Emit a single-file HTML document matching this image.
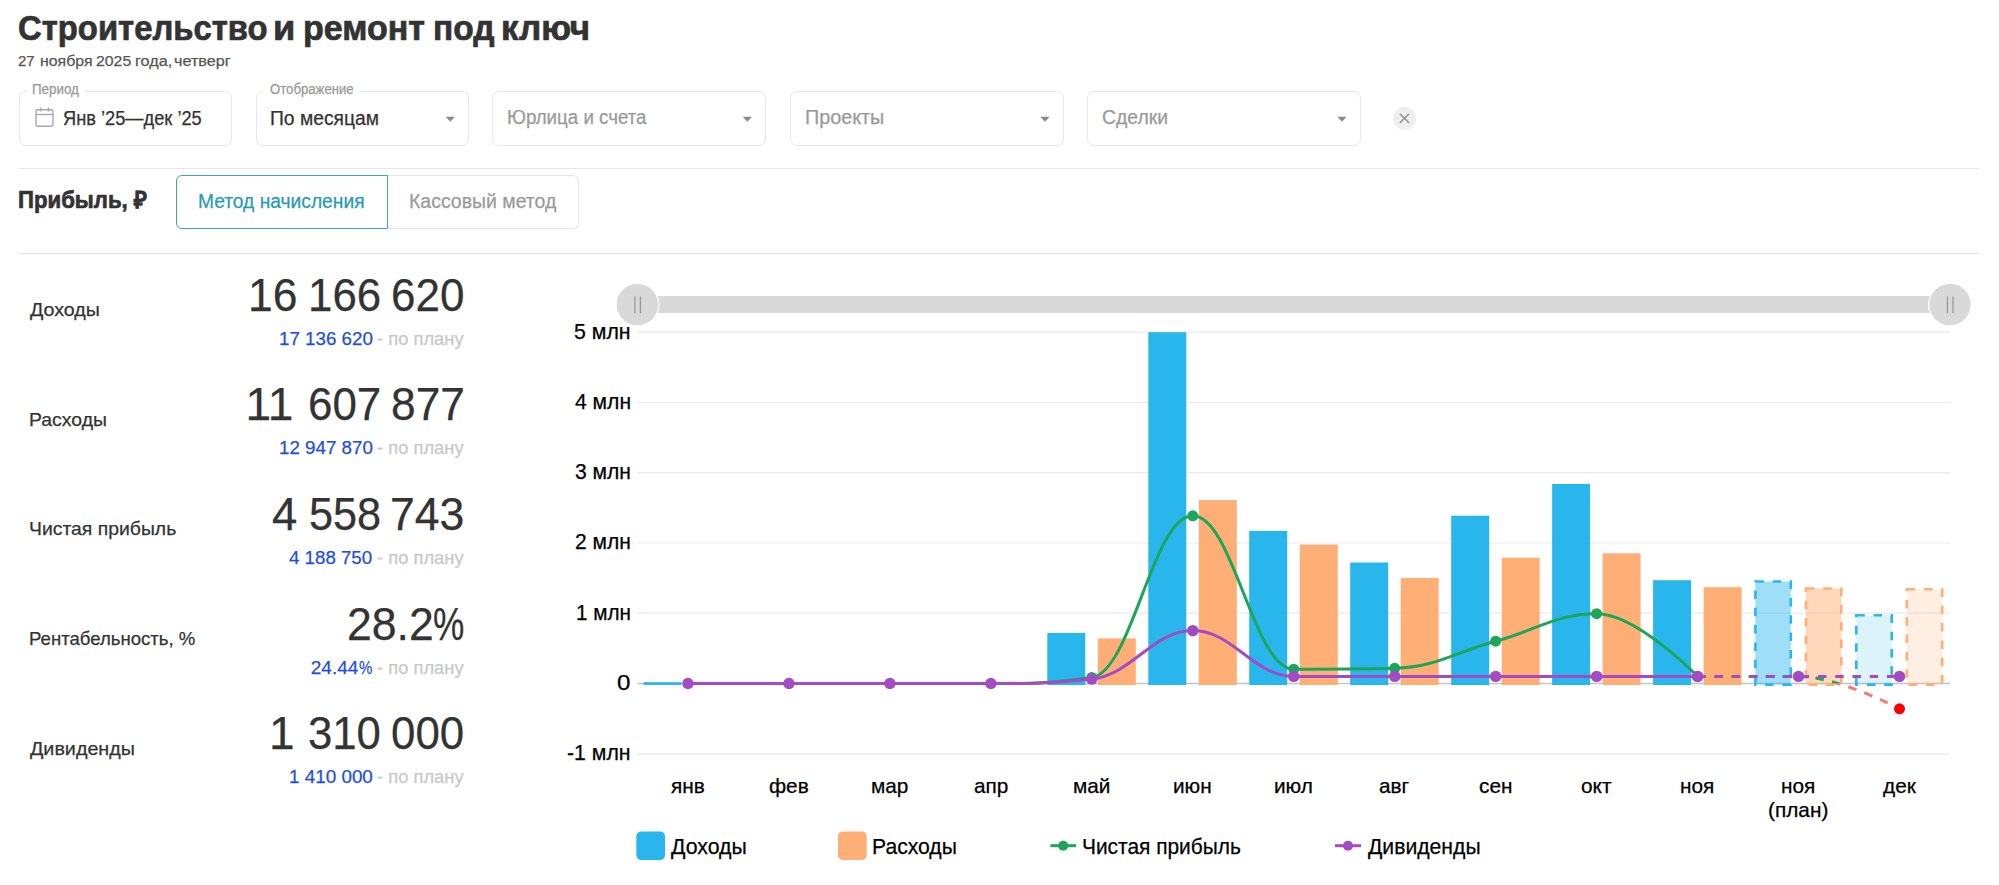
<!DOCTYPE html>
<html lang="ru"><head><meta charset="utf-8"><title>Прибыль</title>
<style>
html,body{margin:0;padding:0;background:#fff;}
body{width:1999px;height:885px;position:relative;overflow:hidden;font-family:"Liberation Sans", Arial, sans-serif;}
.t{position:absolute;white-space:pre;line-height:1;transform-origin:0 0;}
.box{position:absolute;border:1.3px solid #e4e6eb;border-radius:7px;box-sizing:border-box;background:#fff;}
.gap{position:absolute;background:#fff;}
.hr{position:absolute;left:19px;width:1960px;height:1.3px;background:#e6e6e6;}
.tog{position:absolute;top:175px;height:54px;box-sizing:border-box;border-radius:6px;}
svg{position:absolute;left:0;top:0;}
</style></head><body>
<div class="hr" style="top:167.7px"></div>
<div class="hr" style="top:253px"></div>
<div class="box" style="left:19.0px;top:90.8px;width:212.8px;height:55.2px"></div><div class="gap" style="left:27.1px;top:88px;width:58.4px;height:6px"></div><div class="box" style="left:256.0px;top:90.8px;width:212.8px;height:55.2px"></div><div class="gap" style="left:263.9px;top:88px;width:95.5px;height:6px"></div><div class="box" style="left:492.2px;top:90.8px;width:273.8px;height:55.2px"></div><div class="box" style="left:789.8px;top:90.8px;width:274.2px;height:55.2px"></div><div class="box" style="left:1087.0px;top:90.8px;width:273.8px;height:55.2px"></div>
<div class="tog" style="left:387px;width:192px;border:1.3px solid #e4e6eb;border-left:none;border-radius:0 6px 6px 0"></div>
<div class="tog" style="left:175.5px;width:212.5px;border:1.6px solid #3aa6bd;border-radius:6px 0 0 6px"></div>
<svg width="1999" height="885" viewBox="0 0 1999 885">
<path d="M 445.7 116.8 L 454.9 116.8 L 450.3 121.8 Z" fill="#8a8a8a"/><path d="M 742.7 116.8 L 751.9 116.8 L 747.3 121.8 Z" fill="#8a8a8a"/><path d="M 1040.4 116.8 L 1049.6 116.8 L 1045.0 121.8 Z" fill="#8a8a8a"/><path d="M 1337.4 116.8 L 1346.6 116.8 L 1342.0 121.8 Z" fill="#8a8a8a"/><circle cx="1404.5" cy="118.3" r="11.5" fill="#efefef"/><path d="M 1399.9 113.8 L 1409 122.9 M 1409 113.8 L 1399.9 122.9" stroke="#959595" stroke-width="1.5"/><rect x="36" y="109.8" width="17" height="16.4" rx="1.6" fill="none" stroke="#a8a8a8" stroke-width="1.4"/><line x1="36" y1="114.5" x2="53" y2="114.5" stroke="#a8a8a8" stroke-width="1.4"/><line x1="40.5" y1="107.5" x2="40.5" y2="111.5" stroke="#a8a8a8" stroke-width="1.4"/><line x1="48.5" y1="107.5" x2="48.5" y2="111.5" stroke="#a8a8a8" stroke-width="1.4"/>
<rect x="637.5" y="296" width="1312.5" height="17" fill="#d9d9d9"/><circle cx="637.4" cy="304.5" r="21.3" fill="#d9d9d9" stroke="#fff" stroke-width="1.2"/><line x1="634.8" y1="296.3" x2="634.8" y2="313.3" stroke="#9a9a9a" stroke-width="1.3"/><line x1="640.4" y1="296.3" x2="640.4" y2="313.3" stroke="#9a9a9a" stroke-width="1.3"/><circle cx="1950.0" cy="304.5" r="21.3" fill="#d9d9d9" stroke="#fff" stroke-width="1.2"/><line x1="1947.4" y1="296.3" x2="1947.4" y2="313.3" stroke="#9a9a9a" stroke-width="1.3"/><line x1="1953.0" y1="296.3" x2="1953.0" y2="313.3" stroke="#9a9a9a" stroke-width="1.3"/><line x1="637.5" y1="332.2" x2="1950.0" y2="332.2" stroke="#eaeaea" stroke-width="1.2"/><line x1="637.5" y1="402.5" x2="1950.0" y2="402.5" stroke="#eaeaea" stroke-width="1.2"/><line x1="637.5" y1="472.7" x2="1950.0" y2="472.7" stroke="#eaeaea" stroke-width="1.2"/><line x1="637.5" y1="543.0" x2="1950.0" y2="543.0" stroke="#eaeaea" stroke-width="1.2"/><line x1="637.5" y1="613.2" x2="1950.0" y2="613.2" stroke="#eaeaea" stroke-width="1.2"/><line x1="637.5" y1="753.8" x2="1950.0" y2="753.8" stroke="#eaeaea" stroke-width="1.2"/><line x1="637.5" y1="683.5" x2="1950.0" y2="683.5" stroke="#c4c4c4" stroke-width="1.3"/><rect x="694.0" y="682.2" width="38.0" height="2.7" fill="#ffaf75"/><rect x="643.5" y="682.2" width="38.0" height="2.7" fill="#29b6ed"/><rect x="794.9" y="682.2" width="38.0" height="2.7" fill="#ffaf75"/><rect x="744.4" y="682.2" width="38.0" height="2.7" fill="#29b6ed"/><rect x="895.9" y="682.2" width="38.0" height="2.7" fill="#ffaf75"/><rect x="845.4" y="682.2" width="38.0" height="2.7" fill="#29b6ed"/><rect x="996.9" y="682.2" width="38.0" height="2.7" fill="#ffaf75"/><rect x="946.4" y="682.2" width="38.0" height="2.7" fill="#29b6ed"/><rect x="1047.3" y="632.9" width="38.0" height="52.1" fill="#29b6ed"/><rect x="1097.8" y="638.4" width="38.0" height="46.6" fill="#ffaf75"/><rect x="1148.3" y="332.2" width="38.0" height="352.8" fill="#29b6ed"/><rect x="1198.8" y="500.0" width="38.0" height="185.0" fill="#ffaf75"/><rect x="1249.2" y="530.9" width="38.0" height="154.1" fill="#29b6ed"/><rect x="1299.8" y="544.6" width="38.0" height="140.4" fill="#ffaf75"/><rect x="1350.2" y="562.5" width="38.0" height="122.5" fill="#29b6ed"/><rect x="1400.7" y="578.0" width="38.0" height="107.0" fill="#ffaf75"/><rect x="1451.2" y="515.7" width="38.0" height="169.3" fill="#29b6ed"/><rect x="1501.7" y="557.7" width="38.0" height="127.3" fill="#ffaf75"/><rect x="1552.1" y="484.0" width="38.0" height="201.0" fill="#29b6ed"/><rect x="1602.6" y="553.3" width="38.0" height="131.7" fill="#ffaf75"/><rect x="1653.1" y="580.2" width="38.0" height="104.8" fill="#29b6ed"/><rect x="1703.6" y="587.2" width="38.0" height="97.8" fill="#ffaf75"/><rect x="1755.4" y="581.5" width="35.4" height="103.1" fill="#29b6ed" fill-opacity="0.45" stroke="#29b6ed" stroke-width="2.6" stroke-dasharray="8.5,8.8"/><rect x="1805.9" y="588.5" width="35.4" height="96.1" fill="#ffaf75" fill-opacity="0.5" stroke="#ffaf75" stroke-width="2.6" stroke-dasharray="8.5,8.8"/><rect x="1856.3" y="615.2" width="35.4" height="69.4" fill="#29b6ed" fill-opacity="0.16" stroke="#29b6ed" stroke-width="2.6" stroke-dasharray="8.5,8.8"/><rect x="1906.8" y="589.3" width="35.4" height="95.3" fill="#ffaf75" fill-opacity="0.21000000000000002" stroke="#ffaf75" stroke-width="2.6" stroke-dasharray="8.5,8.8"/><path d="M 687.98 683.50 C 687.98 683.50 748.56 683.50 788.94 683.50 C 829.33 683.50 849.52 683.50 889.90 683.50 C 930.29 683.50 950.48 683.50 990.87 683.50 C 1031.25 683.50 1051.44 683.50 1091.83 677.50 C 1132.21 671.50 1152.40 515.80 1192.79 515.80 C 1233.17 515.80 1253.37 669.20 1293.75 669.20 C 1334.13 669.20 1354.33 669.20 1394.71 668.30 C 1435.10 667.40 1455.29 652.12 1495.67 641.20 C 1536.06 630.28 1556.25 613.70 1596.63 613.70 C 1637.02 613.70 1697.60 676.50 1697.60 676.50" fill="none" stroke="#1ea55a" stroke-width="3" stroke-linejoin="round"/><path d="M 1697.60 676.50 C 1697.60 676.50 1758.17 676.50 1798.56 676.50" fill="none" stroke="#1ea55a" stroke-width="3" stroke-dasharray="8.5,8.5"/><clipPath id="above"><rect x="0" y="0" width="1999" height="683.5"/></clipPath><clipPath id="below"><rect x="0" y="683.5" width="1999" height="300"/></clipPath><path d="M 1798.56 676.50 C 1838.94 676.50 1899.52 708.80 1899.52 708.80" fill="none" stroke="#1ea55a" stroke-width="3" stroke-dasharray="8.5,8.5" clip-path="url(#above)"/><path d="M 1798.56 676.50 C 1838.94 676.50 1899.52 708.80 1899.52 708.80" fill="none" stroke="#f47a7a" stroke-width="3" stroke-dasharray="8.5,8.5" clip-path="url(#below)"/><circle cx="1091.83" cy="677.50" r="5.5" fill="#1ea55a"/><circle cx="1192.79" cy="515.80" r="5.5" fill="#1ea55a"/><circle cx="1293.75" cy="669.20" r="5.5" fill="#1ea55a"/><circle cx="1394.71" cy="668.30" r="5.5" fill="#1ea55a"/><circle cx="1495.67" cy="641.20" r="5.5" fill="#1ea55a"/><circle cx="1596.63" cy="613.70" r="5.5" fill="#1ea55a"/><circle cx="1697.60" cy="676.50" r="5.5" fill="#1ea55a"/><circle cx="1899.52" cy="708.80" r="5.5" fill="#ff0000"/><path d="M 687.98 683.50 C 687.98 683.50 748.56 683.50 788.94 683.50 C 829.33 683.50 849.52 683.50 889.90 683.50 C 930.29 683.50 950.48 683.50 990.87 683.50 C 1031.25 683.50 1051.44 683.50 1091.83 679.10 C 1132.21 674.70 1152.40 630.60 1192.79 630.60 C 1233.17 630.60 1253.37 676.40 1293.75 676.40 C 1334.13 676.40 1354.33 676.40 1394.71 676.40 C 1435.10 676.40 1455.29 676.40 1495.67 676.40 C 1536.06 676.40 1556.25 676.40 1596.63 676.40 C 1637.02 676.40 1697.60 676.40 1697.60 676.40" fill="none" stroke="#a24bc5" stroke-width="3" stroke-linejoin="round"/><path d="M 1697.60 676.40 C 1697.60 676.40 1758.17 676.40 1798.56 676.40 C 1838.94 676.40 1899.52 676.40 1899.52 676.40" fill="none" stroke="#a24bc5" stroke-width="3" stroke-dasharray="8.5,8.7"/><circle cx="687.98" cy="683.50" r="5.7" fill="#a24bc5"/><circle cx="788.94" cy="683.50" r="5.7" fill="#a24bc5"/><circle cx="889.90" cy="683.50" r="5.7" fill="#a24bc5"/><circle cx="990.87" cy="683.50" r="5.7" fill="#a24bc5"/><circle cx="1091.83" cy="679.10" r="5.7" fill="#a24bc5"/><circle cx="1192.79" cy="630.60" r="5.7" fill="#a24bc5"/><circle cx="1293.75" cy="676.40" r="5.7" fill="#a24bc5"/><circle cx="1394.71" cy="676.40" r="5.7" fill="#a24bc5"/><circle cx="1495.67" cy="676.40" r="5.7" fill="#a24bc5"/><circle cx="1596.63" cy="676.40" r="5.7" fill="#a24bc5"/><circle cx="1697.60" cy="676.40" r="5.7" fill="#a24bc5"/><circle cx="1798.56" cy="676.40" r="5.7" fill="#a24bc5"/><circle cx="1899.52" cy="676.40" r="5.7" fill="#a24bc5"/><rect x="636.3" y="831.4" width="28.7" height="28.7" rx="5" fill="#29b6ed"/><rect x="838.0" y="831.4" width="28.7" height="28.7" rx="5" fill="#ffaf75"/><line x1="1050.4" y1="845.7" x2="1076.1" y2="845.7" stroke="#1ea55a" stroke-width="3"/><circle cx="1063.2" cy="845.7" r="5" fill="#1ea55a"/><line x1="1335" y1="845.7" x2="1361" y2="845.7" stroke="#a24bc5" stroke-width="3"/><circle cx="1348" cy="845.7" r="5" fill="#a24bc5"/>
</svg>
<span class="t" style="left:17.77px;top:11.30px;font-size:34.5px;color:#333;font-weight:700;-webkit-text-stroke:0.7px #333;transform:scaleX(0.9514);">Строительство</span><span class="t" style="left:273.37px;top:11.30px;font-size:34.5px;color:#333;font-weight:700;-webkit-text-stroke:0.7px #333;transform:scaleX(1.0523);">и</span><span class="t" style="left:302.98px;top:11.30px;font-size:34.5px;color:#333;font-weight:700;-webkit-text-stroke:0.7px #333;transform:scaleX(0.9859);">ремонт</span><span class="t" style="left:432.57px;top:11.30px;font-size:34.5px;color:#333;font-weight:700;-webkit-text-stroke:0.7px #333;transform:scaleX(0.9710);">под</span><span class="t" style="left:501.26px;top:11.30px;font-size:34.5px;color:#333;font-weight:700;-webkit-text-stroke:0.7px #333;transform:scaleX(1.0145);">ключ</span><span class="t" style="left:18.48px;top:52.88px;font-size:15.5px;color:#555;-webkit-text-stroke:0.25px #555;transform:scaleX(0.9651);">27</span><span class="t" style="left:39.78px;top:52.88px;font-size:15.5px;color:#555;-webkit-text-stroke:0.25px #555;transform:scaleX(1.0234);">ноября</span><span class="t" style="left:96.03px;top:52.88px;font-size:15.5px;color:#555;-webkit-text-stroke:0.25px #555;transform:scaleX(1.0212);">2025</span><span class="t" style="left:134.65px;top:52.88px;font-size:15.5px;color:#555;-webkit-text-stroke:0.25px #555;transform:scaleX(1.0466);">года,</span><span class="t" style="left:174.25px;top:52.88px;font-size:15.5px;color:#555;-webkit-text-stroke:0.25px #555;transform:scaleX(1.0464);">четверг</span><span class="t" style="left:32.41px;top:82.05px;font-size:14px;color:#999;-webkit-text-stroke:0.25px #999;transform:scaleX(0.9558);">Период</span><span class="t" style="left:269.69px;top:82.05px;font-size:14px;color:#999;-webkit-text-stroke:0.25px #999;transform:scaleX(0.9402);">Отображение</span><span class="t" style="left:63.06px;top:108.50px;font-size:19.5px;color:#333;-webkit-text-stroke:0.25px #333;transform:scaleX(0.9352);">Янв ’25—дек ’25</span><span class="t" style="left:270.12px;top:108.50px;font-size:19.5px;color:#333;-webkit-text-stroke:0.25px #333;transform:scaleX(0.9888);">По месяцам</span><span class="t" style="left:507.06px;top:107.70px;font-size:19.5px;color:#9a9a9a;-webkit-text-stroke:0.25px #9a9a9a;transform:scaleX(0.9600);">Юрлица и счета</span><span class="t" style="left:804.68px;top:107.70px;font-size:19.5px;color:#9a9a9a;-webkit-text-stroke:0.25px #9a9a9a;transform:scaleX(1.0132);">Проекты</span><span class="t" style="left:1102.41px;top:107.70px;font-size:19.5px;color:#9a9a9a;-webkit-text-stroke:0.25px #9a9a9a;transform:scaleX(0.9937);">Сделки</span><span class="t" style="left:18.18px;top:189.11px;font-size:23.5px;color:#333;font-weight:700;-webkit-text-stroke:0.7px #333;transform:scaleX(0.9445);">Прибыль, ₽</span><span class="t" style="left:198.02px;top:191.50px;font-size:19.5px;color:#2a9bb5;-webkit-text-stroke:0.25px #2a9bb5;transform:scaleX(0.9853);">Метод начисления</span><span class="t" style="left:408.50px;top:191.50px;font-size:19.5px;color:#9a9a9a;-webkit-text-stroke:0.25px #9a9a9a;transform:scaleX(0.9983);">Кассовый метод</span><span class="t" style="left:30.44px;top:299.92px;font-size:19px;color:#333;-webkit-text-stroke:0.25px #333;transform:scaleX(1.0348);">Доходы</span><span class="t" style="left:247.82px;top:271.57px;font-size:46px;color:#333;-webkit-text-stroke:0.25px #333;transform:scaleX(0.9670);">16</span><span class="t" style="left:307.96px;top:271.57px;font-size:46px;color:#333;-webkit-text-stroke:0.25px #333;transform:scaleX(0.9530);">166</span><span class="t" style="left:390.95px;top:271.57px;font-size:46px;color:#333;-webkit-text-stroke:0.25px #333;transform:scaleX(0.9567);">620</span><span class="t" style="left:278.52px;top:328.72px;font-size:19px;color:#1f4fd8;-webkit-text-stroke:0.25px #1f4fd8;transform:scaleX(0.9876);">17 136 620</span><span class="t" style="left:376.58px;top:328.72px;font-size:19px;color:#c8c8c8;-webkit-text-stroke:0.25px #c8c8c8;transform:scaleX(0.9656);">- по плану</span><span class="t" style="left:29.17px;top:409.59px;font-size:19px;color:#333;-webkit-text-stroke:0.25px #333;transform:scaleX(1.0218);">Расходы</span><span class="t" style="left:245.55px;top:381.24px;font-size:46px;color:#333;-webkit-text-stroke:0.25px #333;">11</span><span class="t" style="left:308.05px;top:381.24px;font-size:46px;color:#333;-webkit-text-stroke:0.25px #333;transform:scaleX(0.9550);">607</span><span class="t" style="left:391.17px;top:381.24px;font-size:46px;color:#333;-webkit-text-stroke:0.25px #333;transform:scaleX(0.9641);">877</span><span class="t" style="left:278.52px;top:438.39px;font-size:19px;color:#1f4fd8;-webkit-text-stroke:0.25px #1f4fd8;transform:scaleX(0.9876);">12 947 870</span><span class="t" style="left:376.58px;top:438.39px;font-size:19px;color:#c8c8c8;-webkit-text-stroke:0.25px #c8c8c8;transform:scaleX(0.9656);">- по плану</span><span class="t" style="left:29.17px;top:519.26px;font-size:19px;color:#333;-webkit-text-stroke:0.25px #333;transform:scaleX(1.0197);">Чистая прибыль</span><span class="t" style="left:272.41px;top:490.91px;font-size:46px;color:#333;-webkit-text-stroke:0.25px #333;transform:scaleX(0.9892);">4</span><span class="t" style="left:308.92px;top:490.91px;font-size:46px;color:#333;-webkit-text-stroke:0.25px #333;transform:scaleX(0.9402);">558</span><span class="t" style="left:390.32px;top:490.91px;font-size:46px;color:#333;-webkit-text-stroke:0.25px #333;transform:scaleX(0.9683);">743</span><span class="t" style="left:289.21px;top:548.06px;font-size:19px;color:#1f4fd8;-webkit-text-stroke:0.25px #1f4fd8;transform:scaleX(0.9838);">4 188 750</span><span class="t" style="left:376.58px;top:548.06px;font-size:19px;color:#c8c8c8;-webkit-text-stroke:0.25px #c8c8c8;transform:scaleX(0.9656);">- по плану</span><span class="t" style="left:29.23px;top:628.93px;font-size:19px;color:#333;-webkit-text-stroke:0.25px #333;transform:scaleX(0.9774);">Рентабельность, %</span><span class="t" style="left:347.32px;top:600.58px;font-size:46px;color:#333;-webkit-text-stroke:0.25px #333;transform:scaleX(0.9694);">28.2</span><span class="t" style="left:432.86px;top:600.58px;font-size:46px;color:#333;-webkit-text-stroke:0.25px #333;transform:scaleX(0.7653);">%</span><span class="t" style="left:310.80px;top:657.73px;font-size:19px;color:#1f4fd8;-webkit-text-stroke:0.25px #1f4fd8;transform:scaleX(1.0000);">24.44</span><span class="t" style="left:358.81px;top:657.73px;font-size:19px;color:#1f4fd8;-webkit-text-stroke:0.25px #1f4fd8;transform:scaleX(0.7871);">%</span><span class="t" style="left:376.58px;top:657.73px;font-size:19px;color:#c8c8c8;-webkit-text-stroke:0.25px #c8c8c8;transform:scaleX(0.9656);">- по плану</span><span class="t" style="left:30.44px;top:738.60px;font-size:19px;color:#333;-webkit-text-stroke:0.25px #333;transform:scaleX(1.0382);">Дивиденды</span><span class="t" style="left:268.92px;top:710.25px;font-size:46px;color:#333;-webkit-text-stroke:0.25px #333;">1</span><span class="t" style="left:307.94px;top:710.25px;font-size:46px;color:#333;-webkit-text-stroke:0.25px #333;transform:scaleX(0.9502);">310</span><span class="t" style="left:391.43px;top:710.25px;font-size:46px;color:#333;-webkit-text-stroke:0.25px #333;transform:scaleX(0.9543);">000</span><span class="t" style="left:288.51px;top:767.40px;font-size:19px;color:#1f4fd8;-webkit-text-stroke:0.25px #1f4fd8;transform:scaleX(0.9921);">1 410 000</span><span class="t" style="left:376.58px;top:767.40px;font-size:19px;color:#c8c8c8;-webkit-text-stroke:0.25px #c8c8c8;transform:scaleX(0.9656);">- по плану</span><span class="t" style="left:574.31px;top:321.50px;font-size:21.5px;color:#000;-webkit-text-stroke:0.25px #000;transform:scaleX(0.9900);">5 млн</span><span class="t" style="left:574.81px;top:391.76px;font-size:21.5px;color:#000;-webkit-text-stroke:0.25px #000;transform:scaleX(0.9810);">4 млн</span><span class="t" style="left:574.87px;top:462.02px;font-size:21.5px;color:#000;-webkit-text-stroke:0.25px #000;transform:scaleX(0.9800);">3 млн</span><span class="t" style="left:575.02px;top:532.28px;font-size:21.5px;color:#000;-webkit-text-stroke:0.25px #000;transform:scaleX(0.9772);">2 млн</span><span class="t" style="left:575.81px;top:602.54px;font-size:21.5px;color:#000;-webkit-text-stroke:0.25px #000;transform:scaleX(0.9630);">1 млн</span><span class="t" style="left:617.16px;top:672.80px;font-size:21.5px;color:#000;-webkit-text-stroke:0.25px #000;transform:scaleX(1.1220);">0</span><span class="t" style="left:567.41px;top:743.06px;font-size:21.5px;color:#000;-webkit-text-stroke:0.25px #000;transform:scaleX(0.9895);">-1 млн</span><span class="t" style="left:671.40px;top:775.43px;font-size:21px;color:#000;-webkit-text-stroke:0.25px #000;transform:scaleX(0.9900);">янв</span><span class="t" style="left:769.02px;top:775.43px;font-size:21px;color:#000;-webkit-text-stroke:0.25px #000;transform:scaleX(0.9900);">фев</span><span class="t" style="left:870.85px;top:775.43px;font-size:21px;color:#000;-webkit-text-stroke:0.25px #000;transform:scaleX(0.9900);">мар</span><span class="t" style="left:973.66px;top:775.43px;font-size:21px;color:#000;-webkit-text-stroke:0.25px #000;transform:scaleX(0.9900);">апр</span><span class="t" style="left:1073.02px;top:775.43px;font-size:21px;color:#000;-webkit-text-stroke:0.25px #000;transform:scaleX(0.9900);">май</span><span class="t" style="left:1173.36px;top:775.43px;font-size:21px;color:#000;-webkit-text-stroke:0.25px #000;transform:scaleX(0.9900);">июн</span><span class="t" style="left:1274.32px;top:775.43px;font-size:21px;color:#000;-webkit-text-stroke:0.25px #000;transform:scaleX(0.9900);">июл</span><span class="t" style="left:1379.49px;top:775.43px;font-size:21px;color:#000;-webkit-text-stroke:0.25px #000;transform:scaleX(0.9900);">авг</span><span class="t" style="left:1479.21px;top:775.43px;font-size:21px;color:#000;-webkit-text-stroke:0.25px #000;transform:scaleX(0.9900);">сен</span><span class="t" style="left:1581.04px;top:775.43px;font-size:21px;color:#000;-webkit-text-stroke:0.25px #000;transform:scaleX(0.9900);">окт</span><span class="t" style="left:1680.39px;top:775.43px;font-size:21px;color:#000;-webkit-text-stroke:0.25px #000;transform:scaleX(0.9900);">ноя</span><span class="t" style="left:1781.36px;top:775.43px;font-size:21px;color:#000;-webkit-text-stroke:0.25px #000;transform:scaleX(0.9900);">ноя</span><span class="t" style="left:1882.94px;top:775.43px;font-size:21px;color:#000;-webkit-text-stroke:0.25px #000;transform:scaleX(0.9900);">дек</span><span class="t" style="left:1768.26px;top:799.03px;font-size:21px;color:#000;-webkit-text-stroke:0.25px #000;transform:scaleX(0.9906);">(план)</span><span class="t" style="left:670.76px;top:835.58px;font-size:22px;color:#000;-webkit-text-stroke:0.25px #000;transform:scaleX(0.9673);">Доходы</span><span class="t" style="left:872.12px;top:835.58px;font-size:22px;color:#000;-webkit-text-stroke:0.25px #000;transform:scaleX(0.9612);">Расходы</span><span class="t" style="left:1082.04px;top:835.58px;font-size:22px;color:#000;-webkit-text-stroke:0.25px #000;transform:scaleX(0.9502);">Чистая прибыль</span><span class="t" style="left:1368.36px;top:835.58px;font-size:22px;color:#000;-webkit-text-stroke:0.25px #000;transform:scaleX(0.9623);">Дивиденды</span>
</body></html>
